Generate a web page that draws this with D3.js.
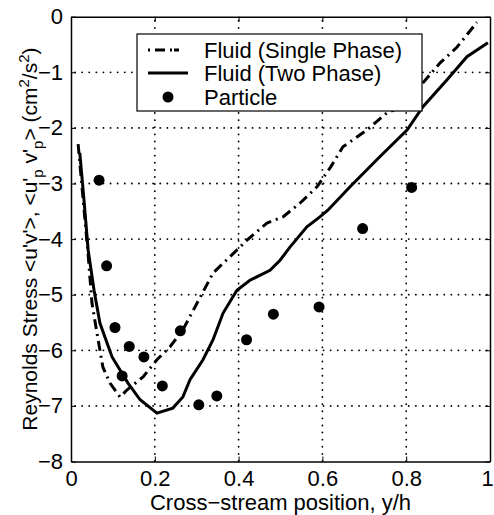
<!DOCTYPE html>
<html>
<head>
<meta charset="utf-8">
<script src="https://cdn.jsdelivr.net/npm/d3@7"></script>
<style>
body { margin: 0; background: #fff; }
text { font-family: "Liberation Sans", Arial, sans-serif; font-size: 22px; fill: #000; }
</style>
</head>
<body>
<div id="chart"></div>
<script>
// single phase fluid (dash-dot)
var singleX = [0.017, 0.041, 0.050, 0.062, 0.076, 0.093, 0.117, 0.134, 0.172, 0.205, 0.236, 0.267, 0.301, 0.339, 0.379, 0.420, 0.468, 0.506, 0.547, 0.587, 0.620, 0.649, 0.706, 0.754, 0.809, 0.840, 0.881, 0.921, 0.969];
var singleY = [-2.29, -4.29, -5.15, -5.69, -6.30, -6.59, -6.84, -6.71, -6.48, -6.17, -5.94, -5.63, -5.15, -4.61, -4.32, -4.02, -3.71, -3.60, -3.35, -3.06, -2.70, -2.34, -2.04, -1.73, -1.55, -1.19, -0.83, -0.55, -0.10];
// two phase fluid (solid)
var twoX = [0.021, 0.031, 0.041, 0.055, 0.069, 0.098, 0.136, 0.165, 0.205, 0.243, 0.267, 0.284, 0.315, 0.339, 0.363, 0.396, 0.427, 0.475, 0.499, 0.523, 0.563, 0.594, 0.613, 0.666, 0.737, 0.802, 0.840, 0.897, 0.945, 0.995];
var twoY = [-2.45, -3.30, -4.20, -4.92, -5.51, -6.12, -6.59, -6.89, -7.13, -7.04, -6.84, -6.53, -6.17, -5.81, -5.33, -4.92, -4.74, -4.56, -4.38, -4.14, -3.78, -3.60, -3.48, -3.06, -2.52, -2.04, -1.62, -1.14, -0.72, -0.47];
// particle
var partX = [0.067, 0.085, 0.105, 0.122, 0.139, 0.174, 0.218, 0.261, 0.305, 0.348, 0.419, 0.483, 0.592, 0.696, 0.813];
var partY = [-2.94, -4.48, -5.59, -6.46, -5.93, -6.12, -6.64, -5.65, -6.98, -6.82, -5.81, -5.35, -5.22, -3.81, -3.07];

var xTicks = [0, 0.2, 0.4, 0.6, 0.8, 1];
var yTicks = [0, -1, -2, -3, -4, -5, -6, -7, -8];
var legendLabels = ["Fluid (Single Phase)", "Fluid (Two Phase)", "Particle"];

var W = 494, H = 515;
var pLeft = 71, pRight = 490, pTop = 16.7, pBottom = 461.5;

var svg = d3.select("#chart").append("svg")
    .attr("width", W)
    .attr("height", H);

var x = d3.scaleLinear().domain([0, 1]).range([pLeft, pRight]);
var y = d3.scaleLinear().domain([-8, 0]).range([pBottom, pTop]);

// dotted grid: round-capped dots
var grid = svg.append("g");
grid.selectAll("line.gx").data(xTicks.slice(1, -1)).enter().append("line")
    .attr("class", "gx")
    .attr("x1", d => x(d)).attr("x2", d => x(d))
    .attr("y1", pTop + 4).attr("y2", pBottom);
grid.selectAll("line.gy").data(yTicks.slice(1, -1)).enter().append("line")
    .attr("class", "gy")
    .attr("x1", pLeft + 4).attr("x2", pRight)
    .attr("y1", d => y(d)).attr("y2", d => y(d));
grid.selectAll("line")
    .attr("stroke", "#000")
    .attr("stroke-width", 1.8)
    .attr("stroke-linecap", "round")
    .attr("stroke-dasharray", "0.1,7");

// axes, ticks point inward like matlab
var axB = svg.append("g").attr("transform", "translate(0," + pBottom + ")")
    .call(d3.axisBottom(x).tickValues(xTicks).tickSizeInner(-5).tickSizeOuter(0).tickPadding(9)
        .tickFormat(d => d === 0 || d === 1 ? d3.format("d")(d) : d3.format(".1f")(d)));
var axT = svg.append("g").attr("transform", "translate(0," + pTop + ")")
    .call(d3.axisTop(x).tickValues(xTicks).tickSizeInner(-5).tickSizeOuter(0).tickFormat(""));
var axL = svg.append("g").attr("transform", "translate(" + pLeft + ",0)")
    .call(d3.axisLeft(y).tickValues(yTicks).tickSizeInner(-5).tickSizeOuter(0).tickPadding(8)
        .tickFormat(d => d === 0 ? "0" : "\u2212" + Math.abs(d)));
var axR = svg.append("g").attr("transform", "translate(" + pRight + ",0)")
    .call(d3.axisRight(y).tickValues(yTicks).tickSizeInner(-5).tickSizeOuter(0).tickFormat(""));
[axB, axT, axL, axR].forEach(function(a) {
    a.select(".domain").attr("stroke", "#000").attr("stroke-width", 1.5);
    a.selectAll(".tick line").attr("stroke", "#000");
    a.selectAll("text").attr("font-size", null).attr("font-family", null).attr("fill", "#000");
});
// keep the last x label inside the page
axB.selectAll(".tick text").filter(d => d === 1).attr("dx", -3);

var line = d3.line().x(d => x(d[0])).y(d => y(d[1]));

svg.append("path")
    .datum(d3.zip(singleX, singleY))
    .attr("d", line)
    .attr("fill", "none")
    .attr("stroke", "#000")
    .attr("stroke-width", 3)
    .attr("stroke-dasharray", "10,5,2,5");

svg.append("path")
    .datum(d3.zip(twoX, twoY))
    .attr("d", line)
    .attr("fill", "none")
    .attr("stroke", "#000")
    .attr("stroke-width", 3);

svg.selectAll(".pt").data(d3.zip(partX, partY)).enter().append("circle")
    .attr("cx", d => x(d[0]))
    .attr("cy", d => y(d[1]))
    .attr("r", 5.5)
    .attr("fill", "#000");

// legend
var lg = svg.append("g");
lg.append("rect")
    .attr("x", 137).attr("y", 34).attr("width", 285).attr("height", 77)
    .attr("fill", "#fff").attr("stroke", "#000").attr("stroke-width", 1.2);
var rows = [50, 73, 97];
lg.append("line").attr("x1", 148).attr("x2", 188).attr("y1", rows[0]).attr("y2", rows[0])
    .attr("stroke", "#000").attr("stroke-width", 3).attr("stroke-dasharray", "2,5,10,5,2");
lg.append("line").attr("x1", 148).attr("x2", 188).attr("y1", rows[1]).attr("y2", rows[1])
    .attr("stroke", "#000").attr("stroke-width", 3);
lg.append("circle").attr("cx", 168).attr("cy", rows[2]).attr("r", 5.5).attr("fill", "#000");
lg.selectAll(".lt").data(legendLabels).enter().append("text")
    .attr("x", 204)
    .attr("y", (d, i) => rows[i] + 8)
    .text(d => d);

// axis labels
svg.append("text")
    .attr("x", (pLeft + pRight) / 2)
    .attr("y", 510)
    .attr("text-anchor", "middle")
    .text("Cross\u2212stream position, y/h");

var yl = svg.append("text")
    .attr("transform", "translate(37," + ((pTop + pBottom) / 2) + ") rotate(-90)")
    .attr("text-anchor", "middle")
    .style("font-size", "21px");
yl.append("tspan").text("Reynolds Stress <u'v'>, <u'");
yl.append("tspan").style("font-size", "15px").attr("dy", 6).text("p");
yl.append("tspan").attr("dy", -6).text(" v'");
yl.append("tspan").style("font-size", "15px").attr("dy", 6).text("p");
yl.append("tspan").attr("dy", -6).text("> (cm");
yl.append("tspan").style("font-size", "15px").attr("dy", -8).text("2");
yl.append("tspan").attr("dy", 8).text("/s");
yl.append("tspan").style("font-size", "15px").attr("dy", -8).text("2");
yl.append("tspan").attr("dy", 8).text(")");
</script>
</body>
</html>
